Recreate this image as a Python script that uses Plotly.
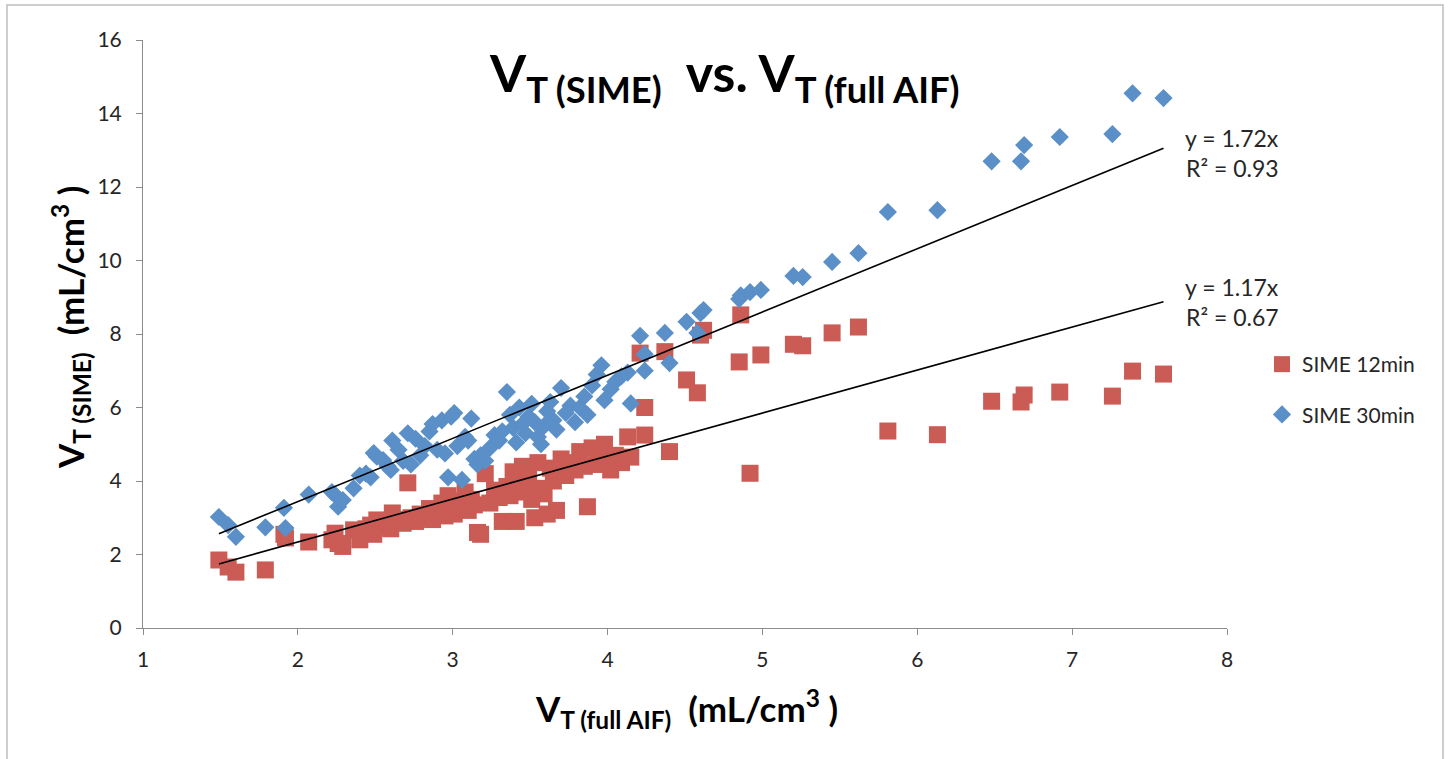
import plotly.graph_objects as go

# V_T from the full arterial input function (x) and the two SIME estimates
vt_full_aif = [
    1.49, 1.55, 1.60, 1.79, 1.91, 1.92, 2.07, 2.22, 2.24, 2.26, 2.29, 2.36, 2.40, 2.44,
    2.47, 2.49, 2.51, 2.55, 2.58, 2.60, 2.61, 2.65, 2.68, 2.71, 2.73, 2.76, 2.79, 2.82,
    2.85, 2.87, 2.90, 2.93, 2.95, 2.97, 2.99, 3.01, 3.03, 3.06, 3.08, 3.10, 3.12, 3.14,
    3.16, 3.18, 3.21, 3.24, 3.27, 3.30, 3.32, 3.35, 3.37, 3.39, 3.41, 3.43, 3.45, 3.47,
    3.49, 3.51, 3.53, 3.55, 3.57, 3.59, 3.61, 3.63, 3.65, 3.67, 3.70, 3.73, 3.76, 3.79,
    3.82, 3.85, 3.87, 3.90, 3.93, 3.96, 3.98, 4.02, 4.05, 4.09, 4.13, 4.15, 4.21, 4.24,
    4.24, 4.37, 4.40, 4.51, 4.58, 4.60, 4.62, 4.85, 4.86, 4.92, 4.99, 5.20, 5.26, 5.45,
    5.62, 5.81, 6.13, 6.48, 6.67, 6.69, 6.92, 7.26, 7.39, 7.59,
]
vt_sime_12 = [
    1.85, 1.66, 1.52, 1.58, 2.55, 2.45, 2.34, 2.40, 2.58, 2.30, 2.22, 2.67, 2.40, 2.70,
    2.80, 2.55, 2.94, 2.75, 2.85, 2.70, 3.13, 2.95, 2.85, 3.95, 3.00, 2.90, 3.10, 3.00,
    3.25, 2.95, 3.15, 3.40, 3.05, 3.60, 3.25, 3.10, 3.45, 3.30, 3.70, 3.20, 3.50, 3.35,
    2.60, 2.55, 4.20, 3.40, 3.75, 3.55, 2.90, 3.85, 3.60, 4.25, 2.90, 3.95, 4.40, 3.70,
    4.10, 3.50, 3.00, 4.50, 3.80, 3.65, 3.10, 4.35, 4.00, 3.20, 4.60, 4.15, 4.50, 4.30,
    4.80, 4.40, 3.30, 4.90, 4.45, 4.60, 5.00, 4.30, 4.70, 4.50, 5.20, 4.65, 7.48, 6.00,
    5.25, 7.52, 4.80, 6.75, 6.40, 7.97, 8.10, 7.24, 8.52, 4.21, 7.43, 7.72, 7.68, 8.03,
    8.19, 5.36, 5.26, 6.17, 6.15, 6.34, 6.42, 6.31, 6.99, 6.91,
]
vt_sime_30 = [
    3.02, 2.80, 2.48, 2.74, 3.27, 2.72, 3.63, 3.70, 3.62, 3.30, 3.48, 3.80, 4.15, 4.20,
    4.10, 4.76, 4.66, 4.57, 4.40, 4.30, 5.10, 4.85, 4.55, 5.30, 4.45, 5.15, 4.70, 4.95,
    5.35, 5.55, 4.85, 5.65, 4.75, 4.10, 5.75, 5.85, 4.95, 4.03, 5.20, 5.10, 5.70, 4.60,
    4.45, 4.70, 4.55, 4.90, 5.25, 5.10, 5.35, 6.42, 5.80, 5.45, 5.05, 6.00, 5.55, 5.30,
    5.75, 6.10, 5.60, 5.20, 5.00, 5.50, 5.90, 6.15, 5.65, 5.40, 6.53, 5.85, 6.05, 5.60,
    6.00, 6.30, 5.80, 6.60, 6.90, 7.15, 6.20, 6.50, 6.70, 6.85, 6.95, 6.11, 7.95, 7.00,
    7.45, 8.03, 7.21, 8.33, 8.03, 8.57, 8.65, 8.95, 9.05, 9.14, 9.20, 9.58, 9.55, 9.96,
    10.20, 11.32, 11.37, 12.70, 12.70, 13.14, 13.36, 13.44, 14.55, 14.42,
]

series_names = ["SIME 12min", "SIME 30min"]
slopes = [1.17, 1.72]          # zero-intercept linear fits
r_squared = [0.67, 0.93]

x_ticks = [1, 2, 3, 4, 5, 6, 7, 8]
y_ticks = [0, 2, 4, 6, 8, 10, 12, 14, 16]

RED = "#CB5B55"
BLUE = "#5A8FC8"
FONT = "Lato, 'Open Sans', sans-serif"
TEXT = "#262626"

fig = go.Figure()

fig.add_trace(go.Scatter(
    x=vt_full_aif, y=vt_sime_12, mode="markers", name=series_names[0],
    legendgroup="a",
    marker=dict(symbol="square", size=17, color=RED, line=dict(width=0)),
))
fig.add_trace(go.Scatter(
    x=vt_full_aif, y=vt_sime_30, mode="markers", name=series_names[1],
    legendgroup="b",
    marker=dict(symbol="diamond", size=14, color=BLUE, line=dict(width=0)),
))

# trend lines through the origin, spanning the data range
x_lo, x_hi = min(vt_full_aif), max(vt_full_aif)
for k in (1, 0):
    fig.add_trace(go.Scatter(
        x=[x_lo, x_hi], y=[slopes[k] * x_lo, slopes[k] * x_hi], mode="lines",
        line=dict(color="black", width=1.6), showlegend=False, hoverinfo="skip",
    ))

annotations = []
# fit equations next to the line ends
for k, (yy1, yy2) in zip((1, 0), ((138, 168), (287, 317))):
    for txt, py in ((f"y = {slopes[k]:.2f}x", yy1), (f"R² = {r_squared[k]:.2f}", yy2)):
        annotations.append(dict(
            text=txt, xref="paper", yref="paper",
            x=(1232 - 143) / 1084, y=(628 - py) / 588,
            xanchor="center", yanchor="middle", showarrow=False,
            font=dict(family=FONT, size=23, color=TEXT),
        ))

# chart title
annotations.append(dict(
    text="<b>V<sub>T (SIME)</sub>  vs. V<sub>T (full AIF)</sub></b>",
    xref="paper", yref="paper", x=(724 - 143) / 1084, y=(628 - 76) / 588,
    xanchor="center", yanchor="middle", showarrow=False,
    font=dict(family=FONT, size=52, color="black"),
))
# axis titles
annotations.append(dict(
    text="<b>V<sub>T (full AIF)</sub>  (mL/cm<sup>3</sup> )</b>",
    xref="paper", yref="paper", x=(686 - 143) / 1084, y=(628 - 708) / 588,
    xanchor="center", yanchor="middle", showarrow=False,
    font=dict(family=FONT, size=35, color="black"),
))
annotations.append(dict(
    text="<b>V<sub>T (SIME)</sub>  (mL/cm<sup>3</sup> )</b>",
    xref="paper", yref="paper", x=(70 - 143) / 1084, y=(628 - 328) / 588,
    xanchor="center", yanchor="middle", showarrow=False, textangle=-90,
    font=dict(family=FONT, size=35, color="black"),
))

fig.update_layout(
    width=1452, height=759,
    margin=dict(l=143, r=225, t=40, b=131),
    paper_bgcolor="white", plot_bgcolor="white",
    font=dict(family=FONT, color=TEXT),
    showlegend=True,
    legend=dict(
        x=(1262 - 143) / 1084, y=(628 - 344) / 588, xanchor="left", yanchor="top",
        font=dict(family=FONT, size=21, color=TEXT),
        tracegroupgap=20, itemwidth=30, bgcolor="rgba(0,0,0,0)",
    ),
    annotations=annotations,
    shapes=[dict(
        type="rect", xref="paper", yref="paper",
        x0=(7 - 143) / 1084, x1=(1443 - 143) / 1084,
        y0=(628 - 770) / 588, y1=(628 - 5) / 588,
        line=dict(color="#BFBFBF", width=1.5), fillcolor="rgba(0,0,0,0)", layer="below",
    )],
)

fig.update_xaxes(
    range=[1, 8], tickvals=x_ticks, showgrid=False, zeroline=False,
    showline=True, linecolor="#8C8C8C", linewidth=1,
    ticks="outside", ticklen=6, tickcolor="#8C8C8C",
    tickfont=dict(family=FONT, size=21, color=TEXT), ticklabelstandoff=7,
)
fig.update_yaxes(
    range=[0, 16], tickvals=y_ticks, showgrid=False, zeroline=False,
    showline=True, linecolor="#8C8C8C", linewidth=1,
    ticks="outside", ticklen=6, tickcolor="#8C8C8C",
    tickfont=dict(family=FONT, size=21, color=TEXT), ticklabelstandoff=10,
)

fig.write_html("out.html")
